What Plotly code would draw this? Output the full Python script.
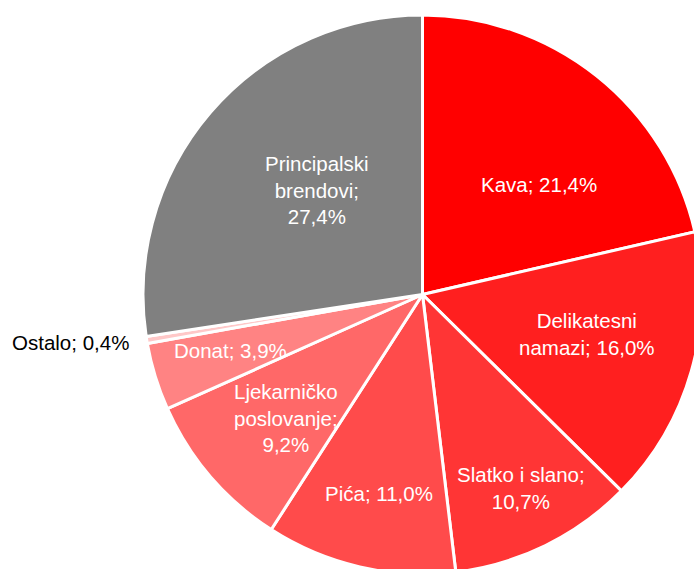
import plotly.graph_objects as go

# ---- data ----
categories = ["Kava", "Delikatesni namazi", "Slatko i slano", "Pića",
              "Ljekarničko poslovanje", "Donat", "Ostalo", "Principalski brendovi"]
label_lines = ["Kava;", "Delikatesni<br>namazi;", "Slatko i slano;<br>", "Pića;",
               "Ljekarničko<br>poslovanje;<br>", "Donat;", "Ostalo;", "Principalski<br>brendovi;<br>"]
shares = [21.4, 16.0, 10.7, 11.0, 9.2, 3.9, 0.4, 27.4]
colors = ["#FF0000", "#FF1F1F", "#FF3535", "#FF4B4B",
          "#FF6868", "#FF8383", "#FFC8C8", "#808080"]
label_colors = ["white", "white", "white", "white", "white", "white", "black", "white"]

# ---- layout constants ----
# The original chart is cropped at its right and bottom edges, so the figure
# is a little larger than the 694x569 window and the page does not scroll.
W, H = 712, 586
dom_px_x = (143, 702)
dom_px_y = (15, 574)  # from top
# label centres (pixels from top-left)
label_pos = [(539, 184.5), (587, 334), (521, 487.5), (379, 493),
             (286, 417.5), (230, 350.5), (70.5, 342.5), (316.5, 190)]

fig = go.Figure(go.Pie(
    labels=categories,
    values=shares,
    sort=False,
    direction="clockwise",
    rotation=0,
    marker=dict(colors=colors, line=dict(color="white", width=3)),
    textinfo="none",
    hoverinfo="label+percent",
    showlegend=False,
    domain=dict(x=[dom_px_x[0] / W, dom_px_x[1] / W],
                y=[1 - dom_px_y[1] / H, 1 - dom_px_y[0] / H]),
))

font_family = "Liberation Sans, Arial, sans-serif"
for name, val, col, (px, py) in zip(label_lines, shares, label_colors, label_pos):
    sep = "" if name.endswith("<br>") else " "
    txt = f"{name}{sep}{val:.1f}%".replace(".", ",")
    fig.add_annotation(
        x=px / W, y=1 - py / H, xref="paper", yref="paper",
        text=txt, showarrow=False, xanchor="center", yanchor="middle",
        font=dict(family=font_family, size=20.5, color=col),
        align="center",
    )

fig.update_layout(
    width=W, height=H,
    margin=dict(l=0, r=0, t=0, b=0),
    paper_bgcolor="white",
    plot_bgcolor="white",
)

fig.write_html(
    "out.html",
    config={"displayModeBar": False},
    post_script="document.body.style.margin='0';document.body.style.overflow='hidden';",
)
